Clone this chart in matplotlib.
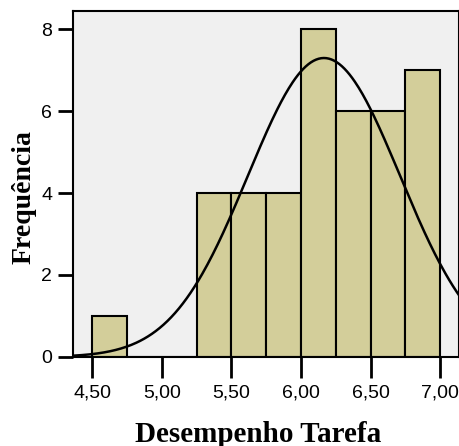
import numpy as np
import matplotlib.pyplot as plt

# histogram of "Desempenho Tarefa" (bins of 0.25)
bin_edges = [4.50, 4.75, 5.00, 5.25, 5.50, 5.75, 6.00, 6.25, 6.50, 6.75, 7.00]
counts = [1, 0, 0, 4, 4, 4, 8, 6, 6, 7]
mean_val = 6.165
std_val = 0.547
n_total = 40

xticks = [4.5, 5.0, 5.5, 6.0, 6.5, 7.0]
xtick_labels = ["4,50", "5,00", "5,50", "6,00", "6,50", "7,00"]
yticks = [0, 2, 4, 6, 8]

fig = plt.figure(figsize=(4.6, 4.46), dpi=100)
ax = fig.add_axes([0.1587, 0.1996, 0.8393, 0.7757])
ax.set_facecolor("#F0F0F0")

lefts = bin_edges[:-1]
widths = np.diff(bin_edges)
ax.bar(lefts, counts, width=widths, align="edge", color="#D3CE9A",
       edgecolor="black", linewidth=1.5, zorder=2)

# normal curve scaled to the histogram
bw = widths[0]
xs = np.linspace(4.36, 7.14, 300)
ys = n_total * bw / (std_val * np.sqrt(2 * np.pi)) * np.exp(-0.5 * ((xs - mean_val) / std_val) ** 2)
ax.plot(xs, ys, color="black", linewidth=1.8, zorder=3)

ax.set_xlim(4.36, 7.137)
ax.set_ylim(0, 8.44)
ax.set_xticks(xticks)
ax.set_xticklabels(xtick_labels, fontfamily="Liberation Sans", fontsize=14)
ax.set_yticks(yticks)
ax.set_yticklabels([str(v) for v in yticks], fontfamily="Liberation Sans", fontsize=14)
ax.tick_params(axis="x", length=15, width=2, pad=5)
ax.tick_params(axis="y", length=11, width=2, pad=4)
for sp in ax.spines.values():
    sp.set_linewidth(1.5)

ax.set_xlabel("Desempenho Tarefa", fontfamily="Liberation Serif", fontweight="bold",
              fontsize=21, labelpad=13.5)
ax.set_ylabel("Frequência", fontfamily="Liberation Serif", fontweight="bold",
              fontsize=20, labelpad=3)
ax.xaxis.label.set_x(0.479)
ax.yaxis.label.set_y(0.461)

fig.savefig("out.png", dpi=100)
